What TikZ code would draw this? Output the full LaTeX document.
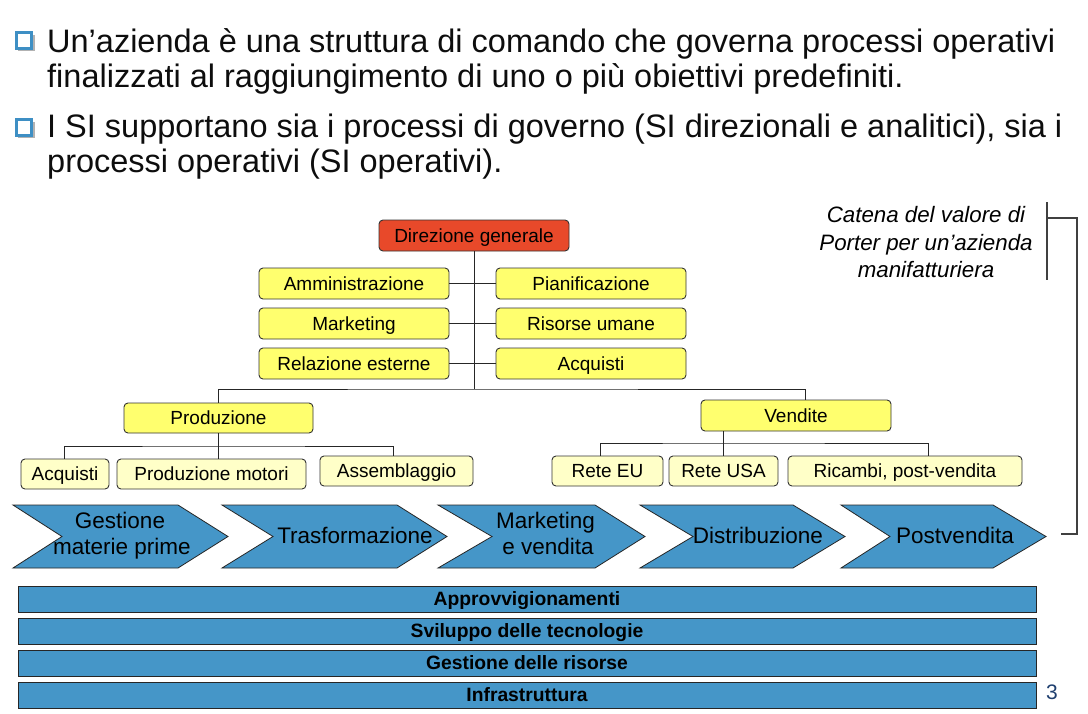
\documentclass[tikz,border=0pt]{standalone}
\usepackage{fontspec}
\setmainfont{Liberation Sans}
\definecolor{chevblue}{HTML}{4596C8}
\definecolor{yelmain}{HTML}{FFFF6E}
\definecolor{yellight}{HTML}{FFFFC8}
\definecolor{redbox}{HTML}{E8492A}
\definecolor{bulblue}{HTML}{3E8FC4}
\definecolor{pgnum}{HTML}{1F3F6F}
\begin{document}
\begin{tikzpicture}[x=1pt,y=-1pt,
  toptxt/.style={anchor=base west, inner sep=0pt, font=\fontsize{32.5}{35}\selectfont, text=black!95},
  bulletsq/.style={draw=bulblue, line width=2.6pt, fill=white, minimum size=15.5pt, inner sep=0pt},
  orgbox/.style={draw=black!80, line width=0.9pt, rounded corners=4pt, inner sep=0pt,
     font=\fontsize{19}{22}\selectfont, text height=13.7pt, text depth=0pt, minimum height=31pt},
  yel/.style={orgbox, fill=yelmain},
  lyel/.style={orgbox, fill=yellight, minimum height=30pt},
  redb/.style={orgbox, fill=redbox},
  conn/.style={draw=black!85, line width=0.9pt},
  chev/.style={fill=chevblue, draw=black!85, line width=0.8pt},
  chevtxt/.style={font=\fontsize{22.5}{26}\selectfont, anchor=base, inner sep=0pt},
  portxt/.style={font=\itshape\fontsize{22.3}{27}\selectfont, anchor=base, inner sep=0pt},
  band/.style={fill=chevblue, draw=black!85, line width=1pt, minimum width=1018pt, minimum height=26pt,
     inner sep=0pt, font=\bfseries\fontsize{19.3}{21}\selectfont, text height=13.8pt, text depth=0pt},
  brack/.style={draw=black!75, line width=1.1pt}
]
\useasboundingbox (0,0) rectangle (1088,713);
\fill[white] (0,0) rectangle (1088,713);

% bullets
\fill[black!30] (17.5,34.5) rectangle (35,51);
\node[bulletsq] (bu1) at (24,40.5) {};
\fill[black!30] (17.5,121.5) rectangle (35,138);
\node[bulletsq] (bu2) at (24,127.5) {};

% top text
\node[toptxt] (l1) at (47,52) {Un’azienda è una struttura di comando che governa processi operativi};
\node[toptxt] (l2) at (47,87) {finalizzati al raggiungimento di uno o più obiettivi predefiniti.};
\node[toptxt] (l3) at (47,137) {I SI supportano sia i processi di governo (SI direzionali e analitici), sia i};
\node[toptxt] (l4) at (47,172) {processi operativi (SI operativi).};

% org chart
\node[redb, minimum width=190pt] (dir) at (474,235.5) {Direzione generale};
\node[yel, minimum width=190pt] (amm) at (354,283.5) {Amministrazione};
\node[yel, minimum width=190pt] (pia) at (591,283.5) {Pianificazione};
\node[yel, minimum width=190pt] (mkt) at (354,323.5) {Marketing};
\node[yel, minimum width=190pt] (ris) at (591,323.5) {Risorse umane};
\node[yel, minimum width=190pt] (rel) at (354,363.5) {Relazione esterne};
\node[yel, minimum width=190pt] (acq) at (591,363.5) {Acquisti};
\coordinate (jt) at (474,389);
\draw[conn] (dir.south) -- (jt);
\draw[conn] (amm.east) -- (pia.west);
\draw[conn] (mkt.east) -- (ris.west);
\draw[conn] (rel.east) -- (acq.west);

\node[yel, minimum width=189pt, minimum height=30pt] (prod) at (218.5,418) {Produzione};
\node[yel, minimum width=190pt] (vend) at (796,415.5) {Vendite};
\draw[conn] (prod.north) |- (jt) -| ([xshift=9pt]vend.north);

\node[lyel, minimum width=88pt] (acq2) at (65,474) {Acquisti};
\node[lyel, minimum width=189pt] (pmot) at (211.5,474) {Produzione motori};
\node[lyel, minimum width=153pt] (ass) at (396.5,471) {Assemblaggio};
\coordinate (pj) at (218.5,446);
\draw[conn] (prod.south) -- (prod.south |- pmot.north);
\draw[conn] ([xshift=-1pt]acq2.north) |- (pj) -| ([xshift=-3.5pt]ass.north);

\node[lyel, minimum width=111pt] (eu) at (607.5,471) {Rete EU};
\node[lyel, minimum width=109pt] (usa) at (723.5,471) {Rete USA};
\node[lyel, minimum width=234pt] (ric) at (905,471) {Ricambi, post-vendita};
\coordinate (vj) at (723.5,443);
\draw[conn] (vend.south -| usa.north) -- (usa.north);
\draw[conn] ([xshift=-7.5pt]eu.north) |- (vj) -| ([xshift=23pt]ric.north);

% Porter caption and bracket
\node[portxt] (p1) at (926,222) {Catena del valore di};
\node[portxt] (p2) at (926,250) {Porter per un’azienda};
\node[portxt] (p3) at (926,277) {manifatturiera};
\coordinate (bt) at (1047,202);
\coordinate (bb) at (1047,280);
\coordinate (bm) at (1047,218);
\coordinate (bc) at (1077,534);
\coordinate (be) at (1061,534);
\draw[brack] (bt) -- (bb);
\draw[brack] (bm) -| (bc) -- (be);

% chevrons
\foreach \L/\R/\T/\N in {13/178/228/62, 222/397/447/273, 438/595/645/492, 640/793/845/693, 841/993/1046/890}{
  \draw[chev] (\L,505) -- (\R,505) -- (\T,536.5) -- (\R,568) -- (\L,568) -- (\N,536.5) -- cycle;
}
\node[chevtxt] (c1a) at (120,528) {Gestione};
\node[chevtxt] (c1b) at (122,554) {materie prime};
\node[chevtxt] (c2) at (355,543) {Trasformazione};
\node[chevtxt] (c3a) at (545.5,528) {Marketing};
\node[chevtxt] (c3b) at (548,554) {e vendita};
\node[chevtxt] (c4) at (758,543) {Distribuzione};
\node[chevtxt] (c5) at (955,543) {Postvendita};

% support bands
\node[band] (s1) at (527,599) {Approvvigionamenti};
\node[band] (s2) at (527,631) {Sviluppo delle tecnologie};
\node[band] (s3) at (527,663) {Gestione delle risorse};
\node[band] (s4) at (527,695) {Infrastruttura};

\node[font=\fontsize{21}{23}\selectfont, text=pgnum, inner sep=0pt] (pg) at (1052,692) {3};
\end{tikzpicture}
\end{document}
